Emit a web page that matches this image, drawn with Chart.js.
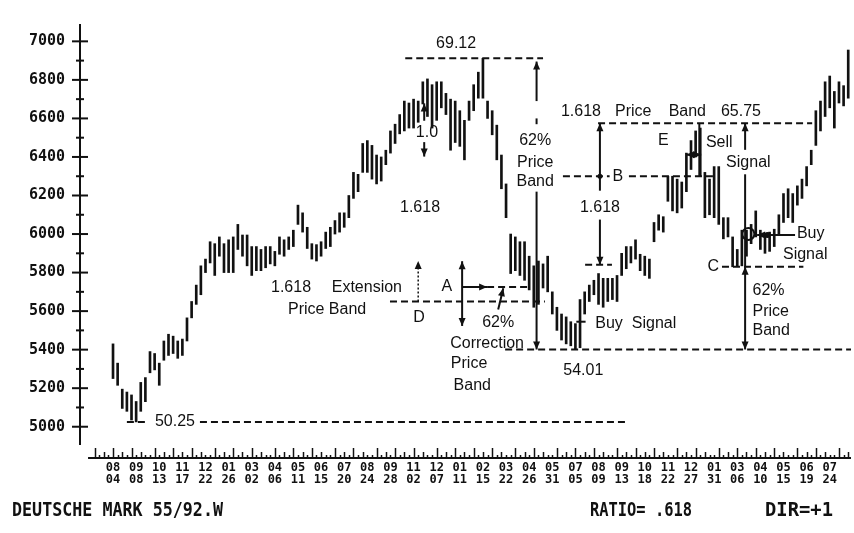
<!DOCTYPE html>
<html>
<head>
<meta charset="utf-8">
<title>Deutsche Mark weekly</title>
<script src="https://cdn.jsdelivr.net/npm/chart.js@4.4.1/dist/chart.umd.min.js"></script>
<style>
  html, body { margin: 0; padding: 0; background: #fff; }
  #wrap { width: 854px; height: 533px; }
</style>
</head>
<body>
<div id="wrap"><canvas id="dmChart" width="854" height="533"></canvas></div>
<script>
// Weekly high / low (price x 10000), week 0 = 08/04
const highs = [
  5430, 5330, 5195, 5180, 5165, 5131, 5230, 5255, 5390, 5380,
  5330, 5445, 5480, 5470, 5445, 5455, 5565, 5650, 5735, 5835,
  5870, 5960, 5950, 5985, 5950, 5970, 5985, 6050, 5995, 5995,
  5935, 5935, 5920, 5935, 5935, 5910, 5985, 5970, 5985, 6020,
  6150, 6110, 6035, 5950, 5945, 5960, 6010, 6035, 6070, 6110,
  6110, 6200, 6320, 6310, 6470, 6485, 6460, 6410, 6400, 6435,
  6535, 6570, 6620, 6690, 6680, 6700, 6690, 6790, 6805, 6775,
  6790, 6790, 6730, 6700, 6690, 6640, 6590, 6690, 6775, 6840,
  6912, 6690, 6640, 6565, 6410, 6260, 6000, 5985, 5960, 5960,
  5885, 5835, 5860, 5845, 5885, 5700, 5620, 5585, 5570, 5545,
  5535, 5660, 5700, 5735, 5760, 5795, 5770, 5770, 5770, 5785,
  5900, 5935, 5935, 5970, 5895, 5885, 5870, 6060, 6100, 6090,
  6300, 6300, 6285, 6270, 6420, 6485, 6535, 6550, 6320, 6285,
  6350, 6350, 6085, 6085, 5985, 5920, 6020, 6020, 6050, 6120,
  6020, 6000, 6010, 6025, 6100, 6210, 6235, 6210, 6250, 6285,
  6350, 6435, 6640, 6690, 6790, 6820, 6740, 6790, 6770, 6955
];
const lows = [
  5250, 5215, 5095, 5080, 5035, 5025, 5080, 5130, 5280, 5295,
  5215, 5345, 5370, 5380, 5355, 5370, 5445, 5565, 5635, 5685,
  5800, 5850, 5785, 5885, 5800, 5800, 5800, 5920, 5885, 5835,
  5785, 5810, 5810, 5825, 5845, 5835, 5895, 5885, 5920, 5935,
  6050, 6010, 5925, 5870, 5860, 5885, 5925, 5935, 6000, 6010,
  6035, 6085, 6185, 6220, 6320, 6320, 6285, 6260, 6275, 6360,
  6420, 6470, 6520, 6535, 6550, 6550, 6580, 6675, 6610, 6550,
  6590, 6655, 6620, 6435, 6475, 6455, 6385, 6590, 6640, 6705,
  6705, 6600, 6515, 6385, 6235, 6085, 5795, 5810, 5785, 5760,
  5710, 5620, 5635, 5720, 5700, 5585, 5500, 5450, 5430, 5420,
  5401, 5410, 5585, 5650, 5685, 5635, 5620, 5650, 5660, 5650,
  5785, 5820, 5850, 5870, 5810, 5785, 5770, 5960, 6020, 6010,
  6170, 6120, 6110, 6135, 6220, 6335, 6400, 6300, 6085, 6100,
  6085, 6050, 5975, 5985, 5830, 5832, 5835, 5885, 5950, 5985,
  5920, 5900, 5910, 5935, 6000, 6060, 6085, 6060, 6150, 6185,
  6250, 6360, 6460, 6535, 6610, 6655, 6550, 6680, 6665, 6705
];

// date labels, one every five weeks
const months = ['08','09','10','11','12','01','03','04','05','06','07','08','09','11','12','01',
                '02','03','04','05','07','08','09','10','11','12','01','03','04','05','06','07'];
const days   = ['04','08','13','17','22','26','02','06','11','15','20','24','28','02','07','11',
                '15','22','26','31','05','09','13','18','22','27','31','06','10','15','19','24'];
const yTicks = [5000, 5200, 5400, 5600, 5800, 6000, 6200, 6400, 6600, 6800, 7000];
const startYear = 1989;

// price levels marked on the chart
const lowLevel = 5025;     // 50.25
const peakLevel = 6912;    // 69.12
const bandTop = 6575;      // 65.75
const secondLow = 5401;    // 54.01
const bLevel = 6300;
const bBase = 5840;
const cLevel = 5830;
const dLevel = 5650;
const aLevel = 5725;

const ink = '#111';
const fmt = v => (v / 100).toFixed(2);

// axis line with cross ticks, weekly ticks along the date line
const axesPlugin = {
  id: 'axesPlugin',
  beforeDatasetsDraw(chart) {
    const { ctx, chartArea: area, scales: { x, y } } = chart;
    ctx.save();
    ctx.strokeStyle = ink;
    ctx.lineWidth = 2;
    const ax = area.left;
    ctx.beginPath();
    ctx.moveTo(ax, y.getPixelForValue(7090));
    ctx.lineTo(ax, y.getPixelForValue(4905));
    ctx.stroke();
    yTicks.forEach(v => {
      const py = y.getPixelForValue(v);
      ctx.beginPath(); ctx.moveTo(ax - 8, py); ctx.lineTo(ax + 8, py); ctx.stroke();
      const m = y.getPixelForValue(v + 100);
      if (v + 100 < 7090) {
        ctx.beginPath(); ctx.moveTo(ax - 4, m); ctx.lineTo(ax + 4, m); ctx.stroke();
      }
    });

    // date line
    const base = area.bottom + 12;
    ctx.beginPath();
    ctx.moveTo(x.getPixelForValue(-5.4), base);
    ctx.lineTo(area.right, base);
    ctx.stroke();
    ctx.lineWidth = 1.5;
    for (let i = -4; i < highs.length; i++) {
      const d = new Date(startYear, 7, 4 + 7 * i);
      const dom = d.getDate();
      const h = dom <= 7 ? 10 : (dom >= 15 && dom <= 21 ? 6 : 3);
      const px = Math.round(x.getPixelForValue(i)) + 0.5;
      ctx.beginPath(); ctx.moveTo(px, base); ctx.lineTo(px, base - h); ctx.stroke();
    }
    ctx.restore();
  }
};

// price band notes, arrows and signal marks
const notesPlugin = {
  id: 'notesPlugin',
  afterDatasetsDraw(chart) {
    const { ctx, scales: { x, y } } = chart;
    const X = v => x.getPixelForValue(v);
    const Y = v => y.getPixelForValue(v);
    ctx.save();
    ctx.strokeStyle = ink;
    ctx.fillStyle = ink;
    ctx.lineWidth = 2;

    const line = (i0, p0, i1, p1, dash) => {
      ctx.setLineDash(dash ? [7, 4] : []);
      ctx.beginPath();
      ctx.moveTo(X(i0), Y(p0));
      ctx.lineTo(X(i1), Y(p1));
      ctx.stroke();
      ctx.setLineDash([]);
    };
    const head = (px, py, ang) => {
      ctx.save();
      ctx.translate(px, py);
      ctx.rotate(ang);
      ctx.beginPath();
      ctx.moveTo(0, 0); ctx.lineTo(-8, -3.5); ctx.lineTo(-8, 3.5);
      ctx.closePath(); ctx.fill();
      ctx.restore();
    };
    const arrow = (i0, p0, i1, p1, both) => {
      line(i0, p0, i1, p1);
      const a = Math.atan2(Y(p1) - Y(p0), X(i1) - X(i0));
      head(X(i1), Y(p1), a);
      if (both) head(X(i0), Y(p0), a + Math.PI);
    };
    const dot = (i, p, r) => {
      ctx.beginPath(); ctx.arc(X(i), Y(p), r, 0, Math.PI * 2); ctx.fill();
    };
    const label = (s, i, p, align, bg) => {
      ctx.font = '16px "Liberation Sans", Arial, sans-serif';
      ctx.textAlign = align || 'center';
      ctx.textBaseline = 'middle';
      if (bg) {
        const w = ctx.measureText(s).width;
        ctx.fillStyle = '#fff';
        ctx.fillRect(X(i) - w / 2 - 3, Y(p) - 8, w + 6, 16);
        ctx.fillStyle = ink;
      }
      ctx.fillText(s, X(i), Y(p));
    };

    // 50.25 low
    line(3.0, lowLevel, 7.4, lowLevel, true);
    label(fmt(lowLevel), 13.4, lowLevel);
    line(18.8, lowLevel, 111.4, lowLevel, true);

    // 69.12 high and 62% price band down to 54.01
    line(63.2, peakLevel, 93.0, peakLevel, true);
    label(fmt(peakLevel), 74.2, 6990);
    arrow(91.6, 6690, 91.6, 6895);
    line(91.6, 6600, 91.6, 6570);
    label('62%', 91.3, 6487);
    label('Price', 91.3, 6372);
    label('Band', 91.3, 6271);
    arrow(91.6, 6220, 91.6, secondLow);

    // 54.01 low
    line(84.8, secondLow, 159.6, secondLow, true);
    label(fmt(secondLow), 101.7, 5292);

    // 1.618 price band to 65.75
    label('1.618', 101.2, 6638);
    label('Price', 112.5, 6638);
    label('Band', 124.2, 6638);
    label(fmt(bandTop), 135.8, 6638);
    line(104.9, bandTop, 151.2, bandTop, true);
    arrow(105.3, 6225, 105.3, bandTop);
    line(97.3, bLevel, 130.2, bLevel, true);
    dot(105.3, bLevel, 2.5);
    label('B', 109.2, bLevel, 'center', true);
    label('1.618', 105.3, 6136);
    arrow(105.3, 6075, 105.3, bBase);
    line(102.1, bBase, 107.9, bBase, true);

    // E and sell signal
    label('E', 119.0, 6487);
    line(126.8, bandTop, 126.8, bLevel);
    arrow(124.0, 6412, 127.2, 6412, true);
    label('Sell', 131.1, 6472);
    label('Signal', 137.4, 6372);
    arrow(136.7, 6437, 136.7, bandTop);
    line(136.7, 6310, 136.7, cLevel);
    ctx.beginPath();
    ctx.arc(X(137.4), Y(6000), 6, 0, Math.PI * 2);
    ctx.stroke();

    // buy signal on the right
    arrow(147.5, 5995, 139.3, 5995);
    dot(141.5, 5995, 3);
    label('Buy', 147.9, 6000, 'left');
    label('Signal', 149.7, 5895);

    // C and the lower 62% band
    label('C', 129.8, cLevel);
    line(131.7, cLevel, 149.3, cLevel, true);
    arrow(136.7, cLevel, 136.7, secondLow, true);
    label('62%', 138.3, 5709, 'left');
    label('Price', 138.3, 5598, 'left');
    label('Band', 138.3, 5498, 'left');

    // buy signal after 54.01
    line(100.2, 5545, 102.2, 5545);
    label('Buy  Signal', 104.3, 5533, 'left');

    // extension band, D and A
    label('1.618', 38.5, 5724);
    label('Extension', 54.9, 5724);
    label('Price Band', 46.3, 5608);
    line(59.9, dLevel, 93.4, dLevel, true);
    label('D', 66.2, 5568);
    ctx.lineWidth = 1.5;
    ctx.setLineDash([2, 2]);
    ctx.beginPath(); ctx.moveTo(X(66.0), Y(dLevel)); ctx.lineTo(X(66.0), Y(5850)); ctx.stroke();
    ctx.setLineDash([]);
    head(X(66.0), Y(5860), -Math.PI / 2);
    ctx.lineWidth = 2;
    label('1.618', 66.4, 6136);

    label('1.0', 67.9, 6527);
    arrow(67.3, 6588, 67.3, 6678);
    arrow(67.3, 6477, 67.3, 6402);

    label('A', 72.2, aLevel);
    arrow(75.5, 5859, 75.5, 5523, true);
    arrow(75.5, aLevel, 80.9, aLevel);
    line(80.9, aLevel, 90.0, aLevel, true);

    label('62%', 83.3, 5543);
    label('Correction', 80.9, 5432);
    label('Price', 77.0, 5327);
    label('Band', 77.7, 5216);
    arrow(83.3, 5608, 84.4, 5719);

    ctx.restore();
  },
  afterDraw(chart) {
    const { ctx } = chart;
    // narrow block lettering along the bottom
    const squeeze = (s, left, width) => {
      const natural = ctx.measureText(s).width;
      ctx.save();
      ctx.translate(left, 511);
      ctx.scale(width / natural, 1);
      ctx.fillText(s, 0, 0);
      ctx.restore();
    };
    ctx.save();
    ctx.fillStyle = ink;
    ctx.font = 'bold 20px "DejaVu Sans Mono", monospace';
    ctx.textBaseline = 'middle';
    ctx.textAlign = 'left';
    squeeze('DEUTSCHE MARK 55/92.W', 12, 211);
    squeeze('RATIO= .618', 590, 102);
    squeeze('DIR=+1', 765, 68);
    ctx.restore();
  }
};

const ctx = document.getElementById('dmChart').getContext('2d');
new Chart(ctx, {
  type: 'bar',
  data: {
    datasets: [{
      data: highs.map((h, i) => ({ x: i, y: [lows[i], h] })),
      backgroundColor: ink,
      borderWidth: 0,
      barThickness: 2
    }]
  },
  options: {
    responsive: false,
    animation: false,
    devicePixelRatio: 1,
    layout: { padding: { left: 0, right: 3, top: 10, bottom: 0 } },
    plugins: { legend: { display: false }, tooltip: { enabled: false } },
    scales: {
      x: {
        type: 'linear',
        min: -7.14,
        max: 159.6,
        offset: false,
        grid: { display: false, drawTicks: false },
        border: { display: false },
        afterBuildTicks: s => { s.ticks = months.map((m, k) => ({ value: k * 5 })); },
        afterFit: s => { s.height = 87; },
        ticks: {
          autoSkip: false,
          maxRotation: 0,
          padding: 16,
          color: ink,
          font: { family: 'DejaVu Sans Mono', size: 12, weight: 'bold', lineHeight: 1.0 },
          callback: (v, k) => [months[k], days[k]]
        }
      },
      y: {
        min: 4900,
        max: 7090,
        grid: { display: false, drawTicks: false },
        border: { display: false },
        afterBuildTicks: s => { s.ticks = yTicks.map(v => ({ value: v })); },
        afterFit: s => { s.width = 80; },
        ticks: {
          padding: 15,
          color: ink,
          font: { family: 'DejaVu Sans Mono', size: 15, weight: 'bold' },
          callback: v => String(v)
        }
      }
    }
  },
  plugins: [axesPlugin, notesPlugin]
});
</script>
</body>
</html>
